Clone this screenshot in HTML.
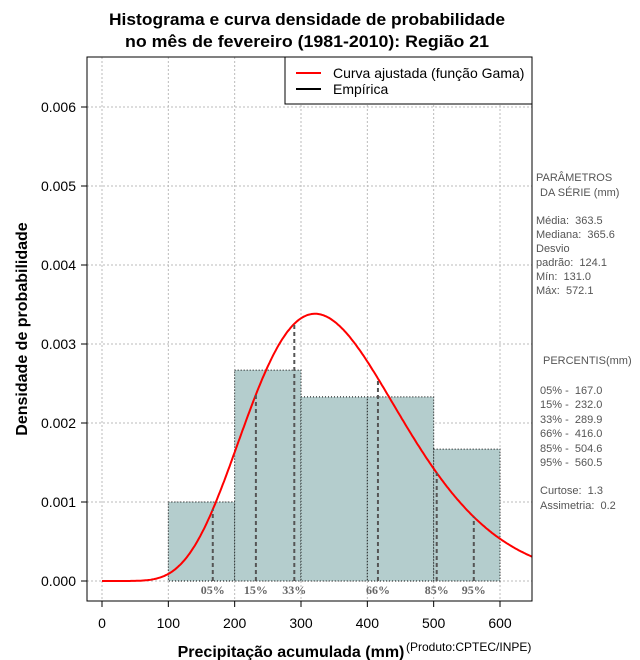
<!DOCTYPE html>
<html><head><meta charset="utf-8"><style>
html,body{margin:0;padding:0;background:#fff;}
svg{display:block;font-family:"Liberation Sans",Arial,sans-serif;}
.pre text{white-space:pre;}
</style></head><body>
<svg id="chart" width="640" height="660" viewBox="0 0 640 660" xmlns="http://www.w3.org/2000/svg">
<g font-weight="bold" font-size="17" text-anchor="middle" fill="#000">
<text x="307" y="25" textLength="396" lengthAdjust="spacingAndGlyphs">Histograma e curva densidade de probabilidade</text>
<text x="307" y="47" textLength="364" lengthAdjust="spacingAndGlyphs">no mês de fevereiro (1981-2010): Região 21</text>
</g>
<g id="grid"></g>
<g id="bars"></g>
<g id="curve"></g>
<g id="pct"></g>
<g id="axes"></g>
<rect x="87" y="57" width="445" height="544" fill="none" stroke="#000" stroke-width="1"/>
<g>
<rect x="285" y="57" width="247" height="47" fill="#fff" stroke="#000"/>
<line x1="296" y1="73" x2="321" y2="73" stroke="#f00" stroke-width="2"/>
<line x1="296" y1="89" x2="321" y2="89" stroke="#000" stroke-width="2"/>
<text x="333" y="78" font-size="14">Curva ajustada (função Gama)</text>
<text x="333" y="94" font-size="14">Empírica</text>
</g>
<text transform="translate(27,329) rotate(-90)" font-size="16" font-weight="bold" text-anchor="middle">Densidade de probabilidade</text>
<text x="291" y="657" font-size="16" font-weight="bold" text-anchor="middle">Precipitação acumulada (mm)</text>
<text x="406" y="651" font-size="12">(Produto:CPTEC/INPE)</text>
<g class="pre" font-size="11" fill="#555">
<text x="536" y="181">PARÂMETROS</text>
<text x="540" y="196">DA SÉRIE (mm)</text>
<text x="536" y="224">Média:  363.5</text>
<text x="536" y="238">Mediana:  365.6</text>
<text x="536" y="252">Desvio</text>
<text x="536" y="266">padrão:  124.1</text>
<text x="536" y="280">Mín:  131.0</text>
<text x="536" y="294">Máx:  572.1</text>
<text x="543" y="364">PERCENTIS(mm)</text>
<text x="540" y="394">05% -  167.0</text>
<text x="540" y="408">15% -  232.0</text>
<text x="540" y="423">33% -  289.9</text>
<text x="540" y="437">66% -  416.0</text>
<text x="540" y="452">85% -  504.6</text>
<text x="540" y="466">95% -  560.5</text>
<text x="540" y="494">Curtose:  1.3</text>
<text x="540" y="509">Assimetria:  0.2</text>
</g>
</svg>
<script>
const xTicks=[0,100,200,300,400,500,600];
const yTicks=[0,0.001,0.002,0.003,0.004,0.005,0.006];
const yTickLabels=["0.000","0.001","0.002","0.003","0.004","0.005","0.006"];
const binStarts=[100,200,300,400,500];
const binEnds=[200,300,400,500,600];
const binDensity=[0.001,0.00267,0.00233,0.00233,0.00167];
const gammaMean=[363.5];
const gammaSd=[124.1];
const pctValues=[167.0,232.0,289.9,416.0,504.6,560.5];
const pctLabels=["05%","15%","33%","66%","85%","95%"];

const NS="http://www.w3.org/2000/svg";
function X(v){return 102+v*(398/600);}
function Y(v){return 581-v*(474/0.006);}
function mk(tag,attrs,parent){const e=document.createElementNS(NS,tag);for(const k in attrs)e.setAttribute(k,attrs[k]);parent.appendChild(e);return e;}
function lgamma(z){const g=7,c=[0.99999999999980993,676.5203681218851,-1259.1392167224028,771.32342877765313,-176.61502916214059,12.507343278686905,-0.13857109526572012,9.9843695780195716e-6,1.5056327351493116e-7];z-=1;let x=c[0];for(let i=1;i<g+2;i++)x+=c[i]/(z+i);const t=z+g+0.5;return 0.5*Math.log(2*Math.PI)+(z+0.5)*Math.log(t)-t+Math.log(x);}
const k=Math.pow(gammaMean[0]/gammaSd[0],2), th=gammaSd[0]*gammaSd[0]/gammaMean[0];
function pdf(x){if(x<=0)return 0;return Math.exp((k-1)*Math.log(x)-x/th-lgamma(k)-k*Math.log(th));}

const grid=document.getElementById('grid');
xTicks.forEach(t=>{const l=mk('line',{x1:X(t),x2:X(t),y1:57,y2:601,stroke:'#bbb','stroke-dasharray':'2,2'},grid);});
yTicks.forEach(t=>{const l=mk('line',{x1:87,x2:532,y1:Y(t),y2:Y(t),stroke:'#bbb','stroke-dasharray':'2,2'},grid);});

const bars=document.getElementById('bars');
binStarts.forEach((s,i)=>{const r=mk('rect',{x:X(s),y:Y(binDensity[i]),width:X(binEnds[i])-X(s),height:Y(0)-Y(binDensity[i]),fill:'#b4cdcd',stroke:'#000','stroke-dasharray':'1,2','stroke-width':1},bars);});

const cg=document.getElementById('curve');
let d='';for(let x=0;x<=650;x+=2){const px=X(x);if(px>532)break;d+=(d?'L':'M')+px.toFixed(1)+','+Y(pdf(x)).toFixed(1);}
const p=mk('path',{d:d,fill:'none',stroke:'#f00','stroke-width':2},cg);



const pg=document.getElementById('pct');
pctValues.forEach((v,i)=>{const l=mk('line',{x1:X(v),x2:X(v),y1:Y(0),y2:Y(pdf(v)),stroke:'#555','stroke-width':2,'stroke-dasharray':'4,3'},pg);
const t=mk('text',{x:X(v),y:594,'font-size':12,'font-weight':'bold','font-family':'Liberation Serif,serif',fill:'#666','text-anchor':'middle'},pg);t.textContent=pctLabels[i];});

const ax=document.getElementById('axes');
xTicks.forEach(t=>{const l=mk('line',{x1:X(t),x2:X(t),y1:601,y2:607,stroke:'#000'},ax);
const tx=mk('text',{x:X(t),y:628,'font-size':14,'text-anchor':'middle'},ax);tx.textContent=t;});
yTicks.forEach((t,i)=>{const l=mk('line',{x1:81,x2:87,y1:Y(t),y2:Y(t),stroke:'#000'},ax);
const tx=mk('text',{x:76,y:Y(t)+5,'font-size':14,'text-anchor':'end'},ax);tx.textContent=yTickLabels[i];});
</script>
</body></html>
